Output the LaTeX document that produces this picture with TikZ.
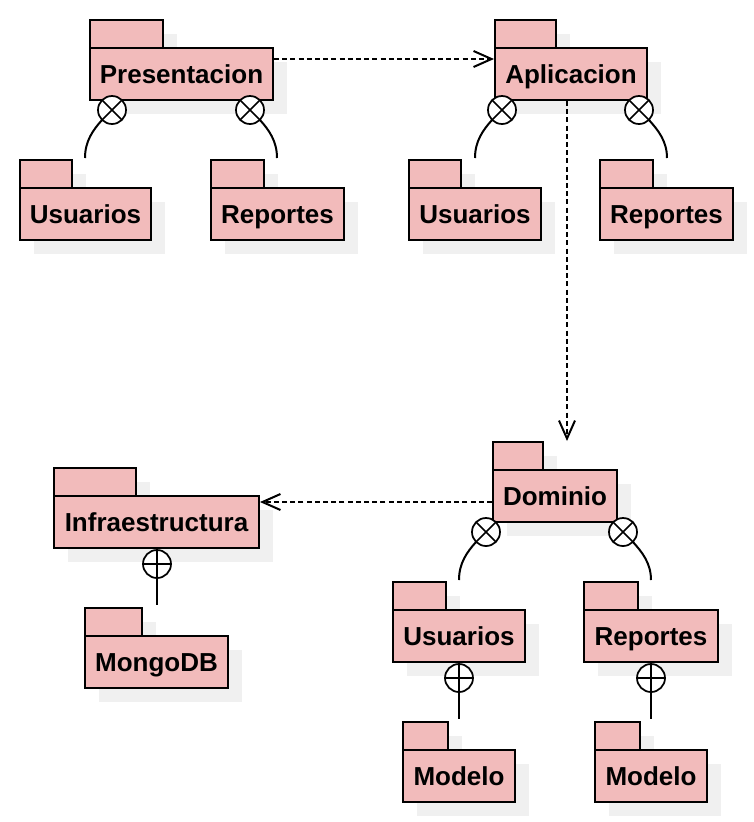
\documentclass[tikz,border=0pt]{standalone}
\usepackage{fontspec}
\setmainfont{Liberation Sans}
\usetikzlibrary{arrows.meta,calc}
\definecolor{pkfill}{HTML}{F2BBBB}
\definecolor{shadowc}{HTML}{F0F0F0}
\tikzset{
  pkgline/.style={draw=black, line width=1.5pt},
  pkgtab/.style={pkgline, fill=pkfill},
  pkgbody/.style={pkgline, fill=pkfill, rectangle, inner sep=0pt,
    minimum height=39pt, text height=16pt, text depth=2.5pt,
    font=\fontsize{19.5}{23}\selectfont\bfseries},
  xcirc/.style={circle, draw=black, line width=1.3pt, fill=white, minimum size=21pt, inner sep=0pt,
    path picture={\draw[line width=1.3pt] (path picture bounding box.north west) -- (path picture bounding box.south east)
      (path picture bounding box.north east) -- (path picture bounding box.south west);}},
  pcirc/.style={circle, draw=black, line width=1.3pt, fill=white, minimum size=21pt, inner sep=0pt,
    path picture={\draw[line width=1.3pt] (path picture bounding box.north) -- (path picture bounding box.south)
      (path picture bounding box.east) -- (path picture bounding box.west);}},
  nest/.style={line width=1.5pt, draw=black},
  dep/.style={line width=1.5pt, draw=black, dash pattern=on 3.75pt off 2.4pt,
    -{Straight Barb[length=13.5pt,width=12pt,line width=1.5pt]}}
}
\newcommand\pkg[6]{%
  \pgfmathsetmacro\pcx{(#2+#5)/2}%
  \pgfmathsetmacro\pcy{#3+54}%
  \pgfmathsetmacro\pw{(#5-#2)*0.75}%
  \fill[shadowc] (#2+14,#3+14) rectangle (#4+14,#3+42);
  \fill[shadowc] (#2+14,#3+42) rectangle (#5+14,#3+94);
  \draw[pkgtab] (#2,#3) rectangle (#4,#3+28);
  \node[pkgbody, minimum width=\pw pt] (#1) at (\pcx,\pcy) {#6};
}
\begin{document}
\begin{tikzpicture}[x=0.75pt,y=-0.75pt]
\useasboundingbox[fill=white] (0,0) rectangle (754,822);
% packages
\pkg{pres}{90}{20}{163}{273}{Presentacion}
\pkg{u1}{20}{160}{72}{151}{Usuarios}
\pkg{r1}{211}{160}{264}{344}{Reportes}
\pkg{apl}{495}{20}{556}{647}{Aplicacion}
\pkg{u2}{409}{160}{461}{541}{Usuarios}
\pkg{r2}{600}{160}{653}{733}{Reportes}
\pkg{dom}{493}{442}{543}{617}{Dominio}
\pkg{inf}{54}{468}{136}{259}{Infraestructura}
\pkg{mongo}{85}{608}{142}{228}{MongoDB}
\pkg{u3}{393}{582}{446}{525}{Usuarios}
\pkg{r3}{584}{582}{638}{718}{Reportes}
\pkg{m1}{403}{722}{448}{515}{Modelo}
\pkg{m2}{595}{722}{640}{707}{Modelo}
% nesting (crossed circles)
\coordinate (eu1) at (85,158);
\coordinate (er1) at (277,158);
\coordinate (eu2) at (475,158);
\coordinate (er2) at (667,158);
\coordinate (eu3) at (459,580);
\coordinate (er3) at (651,580);
\draw[nest] (112,110) ++(135:14) .. controls +(-9,10) and +(0,-17) .. (eu1);
\draw[nest] (250,110) ++(45:14) .. controls +(9,10) and +(0,-17) .. (er1);
\draw[nest] (502,110) ++(135:14) .. controls +(-9,10) and +(0,-17) .. (eu2);
\draw[nest] (639,110) ++(45:14) .. controls +(9,10) and +(0,-17) .. (er2);
\draw[nest] (486,532) ++(135:14) .. controls +(-9,10) and +(0,-17) .. (eu3);
\draw[nest] (623,532) ++(45:14) .. controls +(9,10) and +(0,-17) .. (er3);
\node[xcirc] (xp1) at (112,110) {};
\node[xcirc] (xp2) at (250,110) {};
\node[xcirc] (xa1) at (502,110) {};
\node[xcirc] (xa2) at (639,110) {};
\node[xcirc] (xd1) at (486,532) {};
\node[xcirc] (xd2) at (623,532) {};
% nesting (plus circles)
\node[pcirc] (pi) at (157,564) {};
\node[pcirc] (pu) at (459,678) {};
\node[pcirc] (pr) at (651,678) {};
\coordinate (emo) at (157,605);
\coordinate (em1) at (459,719);
\coordinate (em2) at (651,719);
\draw[nest] (pi.south) -- (emo);
\draw[nest] (pu.south) -- (em1);
\draw[nest] (pr.south) -- (em2);
% dependencies
\draw[dep] ([yshift=-9pt]pres.north east) coordinate (ps) -- (apl.west |- ps);
\coordinate (dtop) at ([xshift=9pt,yshift=21pt]dom.north);
\draw[dep] (apl.south -| dtop) -- (dtop);
\draw[dep] ([yshift=-4.5pt]dom.west) coordinate (ds) -- (inf.east |- ds);
\end{tikzpicture}
\end{document}
